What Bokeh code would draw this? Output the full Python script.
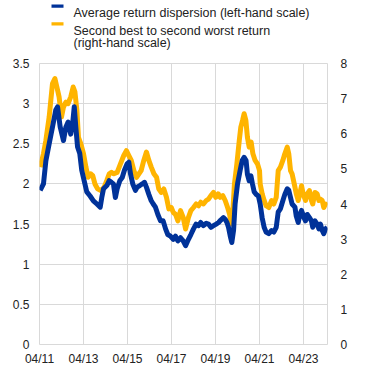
from bokeh.plotting import figure
from bokeh.layouts import column
from bokeh.models import Range1d, LinearAxis, FixedTicker
from bokeh.core.properties import value
from bokeh.embed import file_html
from bokeh.resources import INLINE

# ---- data (decimal years) ----
dispersion_year = [2011.28, 2011.43, 2011.54, 2011.69, 2011.84, 2011.99, 2012.07, 2012.19, 2012.34, 2012.45,
                   2012.55, 2012.67, 2012.77, 2012.83, 2012.90, 2012.98, 2013.08, 2013.17, 2013.28, 2013.40,
                   2013.55, 2013.70, 2013.86, 2014.01, 2014.08, 2014.16, 2014.31, 2014.42, 2014.52, 2014.61,
                   2014.70, 2014.78, 2014.90, 2015.01, 2015.11, 2015.23, 2015.31, 2015.39, 2015.49, 2015.61,
                   2015.69, 2015.81, 2015.92, 2016.02, 2016.11, 2016.22, 2016.33, 2016.42, 2016.52, 2016.63,
                   2016.75, 2016.87, 2016.98, 2017.08, 2017.20, 2017.33, 2017.43, 2017.54, 2017.66, 2017.78,
                   2017.89, 2018.02, 2018.13, 2018.25, 2018.37, 2018.48, 2018.58, 2018.70, 2018.83, 2018.93,
                   2019.04, 2019.16, 2019.28, 2019.39, 2019.49, 2019.61, 2019.69, 2019.77, 2019.84, 2019.92,
                   2019.99, 2020.07, 2020.14, 2020.25, 2020.37, 2020.46, 2020.55, 2020.64, 2020.70, 2020.78,
                   2020.86, 2020.93, 2021.01, 2021.10, 2021.20, 2021.28, 2021.37, 2021.46, 2021.55, 2021.67,
                   2021.80, 2021.90, 2022.01, 2022.10, 2022.20, 2022.31, 2022.40, 2022.51, 2022.58, 2022.66,
                   2022.73, 2022.86, 2022.92, 2023.01, 2023.08, 2023.16, 2023.27, 2023.34, 2023.42, 2023.52,
                   2023.61, 2023.67, 2023.77, 2023.87, 2023.95, 2024.02, 2024.10, 2024.17, 2024.25, 2024.33]
dispersion = [1.92, 2.00, 2.29, 2.50, 2.71, 2.92, 2.96, 2.71, 2.54, 2.71,
              2.77, 2.62, 2.79, 2.96, 2.71, 2.46, 2.38, 2.17, 2.04, 1.90,
              1.85, 1.79, 1.75, 1.71, 1.83, 1.94, 1.98, 2.04, 2.02, 2.00,
              1.83, 1.94, 2.04, 2.08, 2.17, 2.25, 2.27, 2.12, 2.00, 1.92,
              1.96, 1.98, 2.00, 2.02, 1.96, 1.87, 1.79, 1.75, 1.71, 1.62,
              1.54, 1.54, 1.44, 1.37, 1.35, 1.31, 1.35, 1.29, 1.33, 1.29,
              1.23, 1.31, 1.37, 1.44, 1.50, 1.48, 1.52, 1.48, 1.51, 1.50,
              1.46, 1.48, 1.50, 1.52, 1.55, 1.58, 1.56, 1.52, 1.46, 1.35,
              1.27, 1.42, 1.75, 2.00, 2.17, 2.29, 2.33, 2.29, 2.12, 2.04,
              2.10, 2.00, 1.90, 1.87, 1.85, 1.75, 1.58, 1.46, 1.40, 1.38,
              1.42, 1.40, 1.46, 1.65, 1.69, 1.79, 1.87, 1.94, 1.92, 1.83,
              1.75, 1.71, 1.60, 1.52, 1.62, 1.67, 1.58, 1.54, 1.62, 1.58,
              1.54, 1.46, 1.54, 1.50, 1.44, 1.50, 1.42, 1.38, 1.44, 1.46]

spread_year = [2011.28, 2011.43, 2011.54, 2011.69, 2011.84, 2011.95, 2012.04, 2012.14, 2012.25, 2012.34,
               2012.45, 2012.55, 2012.67, 2012.78, 2012.86, 2012.95, 2013.02, 2013.13, 2013.25, 2013.36,
               2013.46, 2013.58, 2013.67, 2013.77, 2013.89, 2014.04, 2014.19, 2014.31, 2014.42, 2014.52,
               2014.61, 2014.78, 2014.93, 2015.08, 2015.20, 2015.31, 2015.42, 2015.54, 2015.66, 2015.77,
               2015.87, 2015.99, 2016.11, 2016.22, 2016.33, 2016.45, 2016.57, 2016.67, 2016.78, 2016.90,
               2017.02, 2017.13, 2017.24, 2017.33, 2017.43, 2017.54, 2017.66, 2017.78, 2017.89, 2018.02,
               2018.13, 2018.25, 2018.37, 2018.48, 2018.58, 2018.70, 2018.83, 2018.93, 2019.04, 2019.16,
               2019.26, 2019.37, 2019.46, 2019.58, 2019.69, 2019.80, 2019.89, 2019.96, 2020.04, 2020.11,
               2020.22, 2020.33, 2020.40, 2020.48, 2020.55, 2020.63, 2020.70, 2020.78, 2020.87, 2020.95,
               2021.05, 2021.16, 2021.25, 2021.28, 2021.37, 2021.46, 2021.55, 2021.67, 2021.80, 2021.90,
               2022.01, 2022.10, 2022.20, 2022.31, 2022.40, 2022.51, 2022.58, 2022.66, 2022.73, 2022.86,
               2022.92, 2023.01, 2023.08, 2023.16, 2023.23, 2023.34, 2023.42, 2023.52, 2023.61, 2023.67,
               2023.77, 2023.87, 2023.95, 2024.02, 2024.10, 2024.17, 2024.25, 2024.33]
spread = [5.05, 5.43, 5.81, 6.48, 7.43, 7.57, 7.33, 7.05, 6.48, 6.76,
          6.90, 6.86, 7.05, 7.33, 7.19, 6.67, 5.90, 5.71, 5.43, 5.05,
          4.76, 4.86, 4.81, 4.57, 4.43, 4.38, 4.48, 4.67, 4.86, 4.90,
          4.86, 4.90, 5.14, 5.38, 5.52, 5.38, 5.24, 4.95, 4.76, 4.86,
          4.95, 5.24, 5.48, 5.24, 5.05, 4.86, 4.76, 4.43, 4.33, 4.43,
          4.19, 3.86, 3.90, 3.76, 3.71, 3.52, 3.81, 3.62, 3.29, 3.62,
          3.81, 3.90, 4.00, 3.95, 4.05, 4.00, 4.10, 4.14, 4.24, 4.33,
          4.19, 4.29, 4.19, 4.24, 4.10, 3.90, 3.71, 3.43, 3.81, 4.57,
          5.14, 5.81, 6.19, 6.38, 6.57, 6.38, 5.90, 5.62, 5.76, 5.43,
          5.24, 5.14, 4.95, 4.57, 4.29, 4.10, 3.95, 3.90, 4.10, 4.00,
          4.19, 4.95, 5.05, 5.24, 5.43, 5.62, 5.43, 4.95, 4.86, 4.48,
          4.29, 4.10, 4.29, 4.52, 4.29, 4.10, 4.29, 4.38, 4.10, 4.00,
          4.33, 4.29, 4.10, 4.14, 4.10, 3.90, 4.00, 3.95]

tick_years = [2011.25, 2013.25, 2015.25, 2017.25, 2019.25, 2021.25, 2023.25]
tick_labels = ["04/11", "04/13", "04/15", "04/17", "04/19", "04/21", "04/23"]
left_ticks = [0, 0.5, 1, 1.5, 2, 2.5, 3, 3.5]
right_ticks = [0, 1, 2, 3, 4, 5, 6, 7, 8]
legend_labels = ["Average return dispersion (left-hand scale)",
                 "Second best to second worst return",
                 "(right-hand scale)"]

BLUE = "#003299"
YELLOW = "#FFB400"
GRID = "#d9d9d9"
FONT = "Liberation Sans"
TXT = "#222222"

W, H = 370, 369
BL, BR = 39, 43          # left / right borders shared by both figures
LEG_H = 50

# ---- legend strip: frame spans the same columns as the chart frame; x = page px, y = px from top ----
leg = figure(width=W, height=LEG_H, output_backend="svg", toolbar_location=None,
             x_range=Range1d(BL, W - BR), y_range=Range1d(LEG_H, 0),
             x_axis_location=None, y_axis_location=None,
             min_border_left=BL, min_border_right=BR, min_border_top=0, min_border_bottom=0)
leg.outline_line_color = None
leg.xgrid.visible = False
leg.ygrid.visible = False
leg.quad(left=[51, 51], right=[63, 63], top=[4, 21.7], bottom=[7.3, 25],
         fill_color=[BLUE, YELLOW], line_color=None)
leg.text(x=[73, 73, 73], y=[12.7, 30.0, 42.7], text=legend_labels,
         text_font=value(FONT), text_font_size="12.5px", text_color=TXT,
         text_baseline="alphabetic", text_align="left")

# ---- main chart ----
p = figure(width=W, height=H - LEG_H, output_backend="svg", toolbar_location=None,
           x_range=Range1d(2011.25, 2024.34), y_range=Range1d(0, 3.5),
           min_border_left=BL, min_border_right=BR, min_border_top=63 - LEG_H, min_border_bottom=25)
p.extra_y_ranges = {"right": Range1d(0, 8)}
p.outline_line_color = GRID

p.line(spread_year, spread, y_range_name="right", line_color=YELLOW, line_width=5, line_join="round")
p.line(dispersion_year, dispersion, line_color=BLUE, line_width=5, line_join="round")

xt = FixedTicker(ticks=tick_years)
p.xaxis.ticker = xt
p.xaxis.major_label_overrides = {t: l for t, l in zip(tick_years, tick_labels)}
p.xgrid.ticker = xt
p.yaxis.ticker = FixedTicker(ticks=left_ticks)
p.ygrid.ticker = FixedTicker(ticks=left_ticks)
p.xaxis.major_label_standoff = 7
p.yaxis.major_label_standoff = 10

raxis = LinearAxis(y_range_name="right", ticker=FixedTicker(ticks=right_ticks))
raxis.major_label_standoff = 13
p.add_layout(raxis, "right")

for ax in [p.xaxis[0], p.yaxis[0], raxis]:
    ax.axis_line_color = None
    ax.major_tick_line_color = None
    ax.minor_tick_line_color = None
    ax.major_tick_out = 0
    ax.major_tick_in = 0
    ax.major_label_text_font = FONT
    ax.major_label_text_font_size = "12px"
    ax.major_label_text_color = TXT

for g in [p.xgrid[0], p.ygrid[0]]:
    g.grid_line_color = GRID
    g.grid_line_width = 1

layout = column(leg, p, spacing=0)
open("out.html", "w").write(file_html(layout, INLINE))
